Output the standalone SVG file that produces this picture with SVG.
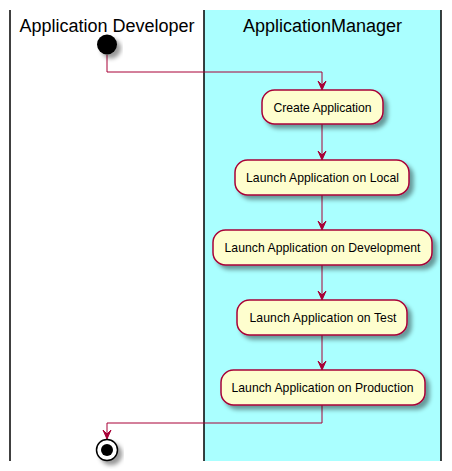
<svg xmlns="http://www.w3.org/2000/svg" width="452" height="471" viewBox="0 0 452 471">
<style>
.lane-title{font-family:"Liberation Sans",Arial,sans-serif;font-size:18px;fill:#000;text-anchor:middle}
.lbl{font-family:"Liberation Sans",Arial,sans-serif;font-size:12.2px;fill:#000;text-anchor:middle}
.box{fill:#FEFECE;stroke:#A80036;stroke-width:1.5}
.edge{fill:none;stroke:#A80036;stroke-width:1}
.head{fill:#A80036;stroke:#A80036;stroke-width:1}
.sep{stroke:#000;stroke-width:1.5}
</style>
<defs>
<filter id="sh" x="-20%" y="-20%" width="150%" height="160%">
<feGaussianBlur in="SourceAlpha" stdDeviation="2"/>
<feOffset dx="4" dy="4" result="b"/>
<feColorMatrix in="b" type="matrix" values="0 0 0 0 0  0 0 0 0 0  0 0 0 0 0  0 0 0 0.4 0"/>
<feMerge><feMergeNode/><feMergeNode in="SourceGraphic"/></feMerge>
</filter>
</defs>
<rect width="452" height="471" fill="#FFFFFF"/>
<g id="lanes">
<rect x="204" y="10" width="237" height="451" fill="#AAFFFF"/>
<line class="sep" x1="10" y1="10" x2="10" y2="461"/>
<line class="sep" x1="204" y1="10" x2="204" y2="461"/>
<line class="sep" x1="441" y1="10" x2="441" y2="461"/>
<text class="lane-title" x="107" y="32">Application Developer</text>
<text class="lane-title" x="322.5" y="32">ApplicationManager</text>
</g>
<g id="connectors">
<polyline class="edge" points="107,55 107,72 322,72 322,90"/>
<polygon class="head" points="318,81 322,90 326,81 322,85"/>
<line class="edge" x1="322" y1="124" x2="322" y2="160"/>
<polygon class="head" points="318,151 322,160 326,151 322,155"/>
<line class="edge" x1="322" y1="195" x2="322" y2="230"/>
<polygon class="head" points="318,221 322,230 326,221 322,225"/>
<line class="edge" x1="322" y1="265" x2="322" y2="300"/>
<polygon class="head" points="318,291 322,300 326,291 322,295"/>
<line class="edge" x1="322" y1="335" x2="322" y2="370"/>
<polygon class="head" points="318,361 322,370 326,361 322,365"/>
<polyline class="edge" points="322,405 322,423 107,423 107,439"/>
<polygon class="head" points="103,430 107,439 111,430 107,434"/>
</g>
<g id="start">
<circle cx="107" cy="44.5" r="10" fill="#000" filter="url(#sh)"/>
</g>
<g id="n1">
<rect class="box" x="262" y="90" width="121" height="34" rx="12.5" filter="url(#sh)"/>
<text class="lbl" x="322.5" y="111.5" textLength="98" lengthAdjust="spacing">Create Application</text>
</g>
<g id="n2">
<rect class="box" x="235" y="160" width="174" height="35" rx="12.5" filter="url(#sh)"/>
<text class="lbl" x="322.5" y="182" textLength="153" lengthAdjust="spacing">Launch Application on Local</text>
</g>
<g id="n3">
<rect class="box" x="213" y="230" width="219" height="35" rx="12.5" filter="url(#sh)"/>
<text class="lbl" x="322.5" y="252" textLength="196" lengthAdjust="spacing">Launch Application on Development</text>
</g>
<g id="n4">
<rect class="box" x="237" y="300" width="170" height="35" rx="12.5" filter="url(#sh)"/>
<text class="lbl" x="323" y="322" textLength="147" lengthAdjust="spacing">Launch Application on Test</text>
</g>
<g id="n5">
<rect class="box" x="221" y="370" width="204" height="35" rx="12.5" filter="url(#sh)"/>
<text class="lbl" x="322.5" y="392" textLength="182" lengthAdjust="spacing">Launch Application on Production</text>
</g>
<g id="end">
<circle cx="107" cy="450" r="10.5" fill="#FFFFFF" stroke="#000" stroke-width="1.5" filter="url(#sh)"/>
<circle cx="107" cy="450" r="6" fill="#000"/>
</g>
</svg>
